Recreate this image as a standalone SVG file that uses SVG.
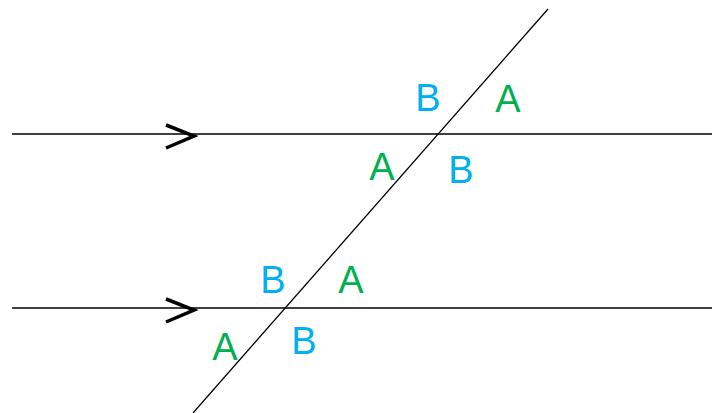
<svg xmlns="http://www.w3.org/2000/svg" width="712" height="413" viewBox="0 0 712 413">
<style>
.ln{stroke:#000;stroke-width:1.3;fill:none}
.chev{stroke:#000;stroke-width:3.5;fill:none;stroke-linejoin:miter}
.lbl{font-family:"Liberation Sans",Arial,sans-serif;font-size:38px;text-anchor:middle}
.a{fill:#00B050}
.b{fill:#00B0F0}
</style>
<rect width="712" height="413" fill="#fff"/>
<g id="connectors">
<line class="ln" x1="12" y1="134" x2="712" y2="134"/>
<line class="ln" x1="12" y1="308" x2="712" y2="308"/>
<line class="ln" x1="548" y1="9" x2="193" y2="413"/>
<polyline class="chev" points="166,125 194,136 166,148"/>
<polyline class="chev" points="166,299 194,310 166,322"/>
</g>
<g id="label-top-B"><text class="lbl b" x="428" y="111">B</text></g>
<g id="label-top-A"><text class="lbl a" x="508" y="112">A</text></g>
<g id="label-top-A2"><text class="lbl a" x="382" y="180">A</text></g>
<g id="label-top-B2"><text class="lbl b" x="461" y="183">B</text></g>
<g id="label-bot-B"><text class="lbl b" x="273" y="293">B</text></g>
<g id="label-bot-A"><text class="lbl a" x="351" y="293">A</text></g>
<g id="label-bot-A2"><text class="lbl a" x="225" y="360">A</text></g>
<g id="label-bot-B2"><text class="lbl b" x="304" y="354">B</text></g>
</svg>
